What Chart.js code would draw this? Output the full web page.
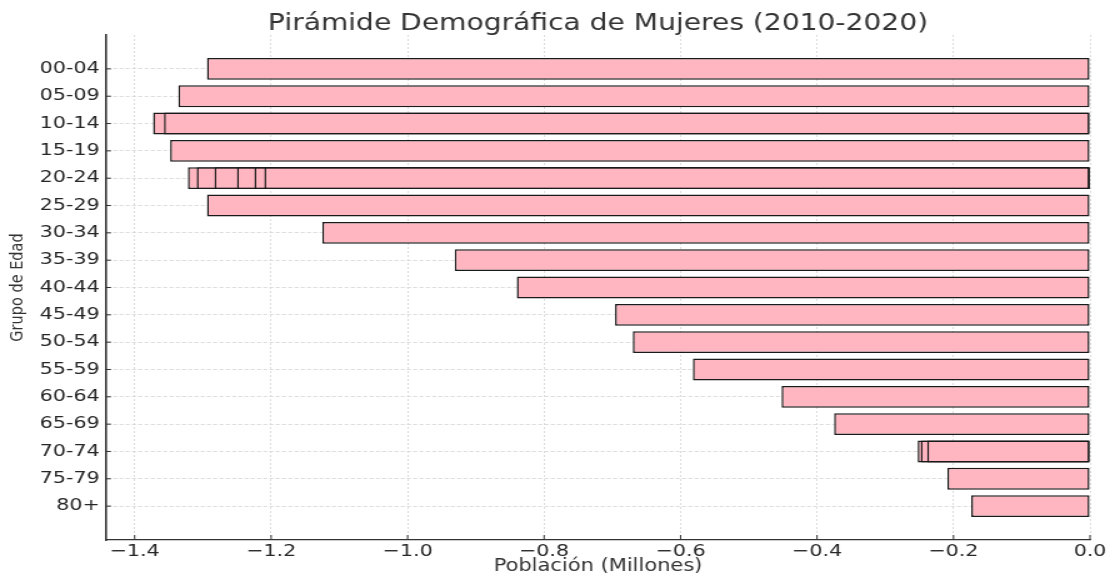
<!DOCTYPE html>
<html>
<head>
<meta charset="utf-8">
<script src="https://cdn.jsdelivr.net/npm/chart.js@4/dist/chart.umd.min.js"></script>
<style>
  html, body { margin: 0; padding: 0; background: #fff; }
  #grafico { width: 1110px; height: 577px; display: block; }
</style>
</head>
<body>
<canvas id="grafico" width="888" height="577" style="width:1110px;height:577px"></canvas>
<script>
// grupos de edad, de arriba a abajo
const grupos = ['00-04', '05-09', '10-14', '15-19', '20-24', '25-29', '30-34', '35-39',
                '40-44', '45-49', '50-54', '55-59', '60-64', '65-69', '70-74', '75-79', '80+'];

// poblacion (millones, negativa); cada capa es una barra superpuesta (2010-2020)
const capa1 = [-1.294, -1.336, -1.373, -1.348, -1.322, -1.294, -1.125, -0.931, -0.840,
               -0.696, -0.670, -0.582, -0.452, -0.375, -0.2525, -0.209, -0.174];
const capa2 = [null, null, -1.357, null, -1.309, null, null, null, null,
               null, null, null, null, null, -0.248, null, null];
const capa3 = [null, null, null, null, -1.283, null, null, null, null,
               null, null, null, null, null, -0.2385, null, null];
const capa4 = [null, null, null, null, -1.250, null, null, null, null,
               null, null, null, null, null, null, null, null];
const capa5 = [null, null, null, null, -1.2245, null, null, null, null,
               null, null, null, null, null, null, null, null];
const capa6 = [null, null, null, null, -1.210, null, null, null, null,
               null, null, null, null, null, null, null, null];

const ticksX = [-1.4, -1.2, -1.0, -0.8, -0.6, -0.4, -0.2, 0.0];

function puntos(serie) {
    let out = [];
    for (let i = 0; i < serie.length; i++) {
        if (serie[i] !== null) out.push({x: serie[i], y: i});
    }
    return out;
}

// la primera del array se dibuja encima, asi que las capas van de corta a larga
const capas = [capa6, capa5, capa4, capa3, capa2, capa1];
const datasets = capas.map(c => ({
    data: puntos(c),
    backgroundColor: '#FFB6C1',
    borderColor: '#1a1a1a',
    borderWidth: 1.5,
    borderSkipped: false,
    barPercentage: 0.8,
    categoryPercentage: 1.0,
    grouped: false
}));

// marcas cortas hacia dentro del area, como en matplotlib
const marcasInternas = {
    id: 'marcasInternas',
    afterDraw(chart) {
        const {ctx, chartArea, scales} = chart;
        ctx.save();
        ctx.strokeStyle = '#333';
        ctx.lineWidth = 1;
        ctx.beginPath();
        scales.x.ticks.forEach((t, i) => {
            let px = scales.x.getPixelForTick(i);
            ctx.moveTo(px, chartArea.bottom);
            ctx.lineTo(px, chartArea.bottom - 5);
        });
        scales.y.ticks.forEach((t, i) => {
            let py = scales.y.getPixelForTick(i);
            ctx.moveTo(chartArea.left, py);
            ctx.lineTo(chartArea.left + 4, py);
        });
        ctx.stroke();
        ctx.restore();
    }
};

const fuente = 'DejaVu Sans';

new Chart(document.getElementById('grafico').getContext('2d'), {
    type: 'bar',
    data: { datasets: datasets },
    plugins: [marcasInternas],
    options: {
        indexAxis: 'y',
        responsive: false,
        animation: false,
        devicePixelRatio: 1,
        layout: { padding: { left: 0, right: 16, top: 0, bottom: 0 } },
        plugins: {
            legend: { display: false },
            tooltip: { enabled: false },
            title: {
                display: true,
                text: 'Pirámide Demográfica de Mujeres (2010-2020)',
                fullSize: false,
                color: '#333',
                font: { family: fuente, size: 22.5, weight: 'normal', lineHeight: 1 },
                padding: { top: 12.5, bottom: 0 }
            }
        },
        scales: {
            x: {
                type: 'linear',
                min: -1.442,
                max: 0,
                z: 1,
                afterBuildTicks: s => { s.ticks = ticksX.map(v => ({value: v})); },
                afterFit: s => { s.height = 37; },
                ticks: {
                    color: '#262626',
                    padding: 2,
                    font: { family: fuente, size: 16.5 },
                    callback: v => (v < 0 ? '\u2212' : '') + Math.abs(v).toFixed(1)
                },
                grid: {
                    color: '#d4d4d4',
                    lineWidth: 0.8,
                    drawTicks: false
                },
                border: { display: true, color: '#333', width: 1.3, dash: [2, 2] },
                title: {
                    display: true,
                    text: 'Población (Millones)',
                    color: '#333',
                    font: { family: fuente, size: 16.8 },
                    padding: { top: 0, bottom: 0 }
                }
            },
            y: {
                type: 'linear',
                reverse: true,
                offset: false,
                min: -1.24,
                max: 17.24,
                z: 1,
                afterBuildTicks: s => { s.ticks = grupos.map((g, i) => ({value: i})); },
                afterFit: s => { s.width = 84.8; },
                ticks: {
                    color: '#262626',
                    padding: 5,
                    font: { family: fuente, size: 16.5 },
                    callback: v => grupos[v]
                },
                grid: {
                    offset: false,
                    color: '#d4d4d4',
                    lineWidth: 0.8,
                    drawTicks: false
                },
                border: { display: true, color: '#333', width: 1.6, dash: [3.2, 1.8] },
                title: {
                    display: true,
                    text: 'Grupo de Edad',
                    color: '#333',
                    font: { family: fuente, size: 14.5 },
                    padding: { top: 6, bottom: 0 }
                }
            }
        }
    }
});
</script>
</body>
</html>
